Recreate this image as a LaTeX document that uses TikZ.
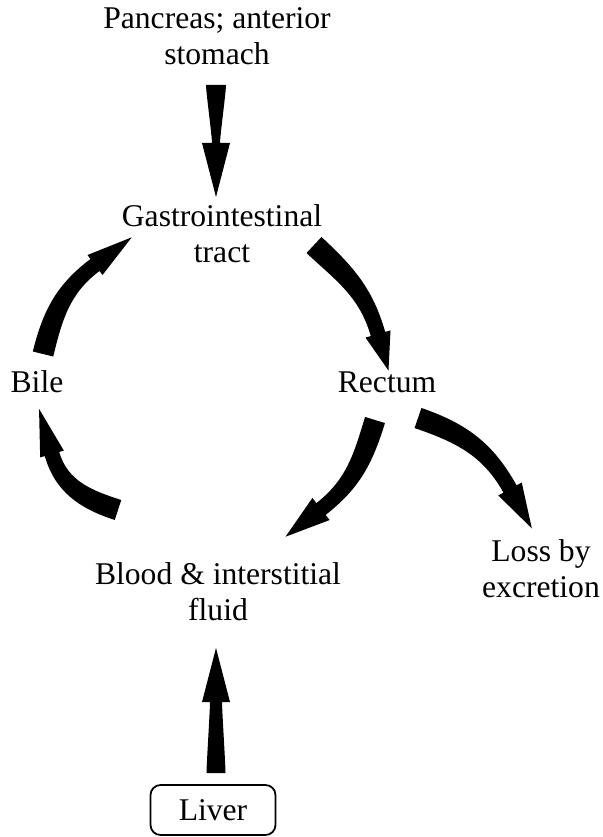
\documentclass[tikz,border=0pt]{standalone}
\usepackage{fontspec}
\setmainfont{Liberation Serif}
\usetikzlibrary{calc}

\tikzset{
  organ/.style={font=\fontsize{18}{20.5}\selectfont, align=center, inner sep=0pt},
  sourcebox/.style={organ, draw, rounded corners=0.2cm, line width=1pt,
    minimum width=2.5cm, minimum height=1cm},
  fatfill/.style={fill=black}
}

% tapered arrow: [looseness] tail, tail angle, tail half width,
% head base, head angle, neck half width, head half width, head length
\newcommand{\fatarrow}[9][1]{%
  \pgfmathsetmacro\fatin{#6+180}%
  \fill[fatfill] ($(#2)+({#3+90}:#4)$)
      to[out=#3,in=\fatin,looseness=#1] ($(#5)+({#6+90}:#7)$)
      -- ($(#5)+({#6+90}:#8)$) -- ($(#5)+(#6:#9)$) -- ($(#5)+({#6-90}:#8)$)
      -- ($(#5)+({#6-90}:#7)$)
      to[out=\fatin,in=#3,looseness=#1] ($(#2)+({#3-90}:#4)$) -- cycle;}

\begin{document}
\begin{tikzpicture}[x=0.02cm,y=0.02cm]
  \useasboundingbox (0,0) rectangle (602,-837); % keeps the page size

  % the compartments
  \node[organ] (pancreas) at (217,-36) {Pancreas; anterior\\stomach};
  \node[organ] (gi) at (222,-234) {Gastrointestinal\\tract};
  \node[organ, anchor=base] (bile) at (37,-392) {Bile};
  \node[organ, anchor=base] (rectum) at (387,-392) {Rectum};
  \node[organ] (blood) at (218,-592) {Blood \& interstitial\\fluid};
  \node[organ] (loss) at (541,-569) {Loss by\\excretion};
  \node[sourcebox] (liver) at (213,-810) {Liver};

  % tails and head bases of the arrows
  \coordinate (pan-out) at (216,-85);
  \coordinate (gi-in) at (216,-143);
  \coordinate (liver-out) at (216,-773);
  \coordinate (blood-in) at (216,-702);
  \coordinate (bile-out) at (43,-354);
  \coordinate (gi-in2) at (95,-265);
  \coordinate (gi-out) at (314,-245);
  \coordinate (rectum-in) at (378,-334);
  \coordinate (rectum-out) at (375,-420);
  \coordinate (blood-in2) at (321,-509);
  \coordinate (rectum-out2) at (418,-418);
  \coordinate (loss-in) at (510,-489);
  \coordinate (blood-out) at (118,-510);
  \coordinate (bile-in) at (52,-454);

  \fatarrow[0.3]{pan-out}{-90}{10}{gi-in}{-90}{4}{14}{54}
  \fatarrow[0.3]{liver-out}{90}{9.5}{blood-in}{90}{6}{14}{54}
  \fatarrow{bile-out}{76}{10.5}{gi-in2}{37}{7.5}{12.5}{46}
  \fatarrow{gi-out}{-43}{11}{rectum-in}{-74}{7.5}{13}{38}
  \fatarrow{rectum-out}{-107}{10.4}{blood-in2}{-142}{7.5}{14}{45}
  \fatarrow{rectum-out2}{-19}{10.6}{loss-in}{-61}{7.5}{13.4}{45}
  \fatarrow{blood-out}{162}{10.5}{bile-in}{106}{7.5}{12.3}{47}
\end{tikzpicture}
\end{document}
